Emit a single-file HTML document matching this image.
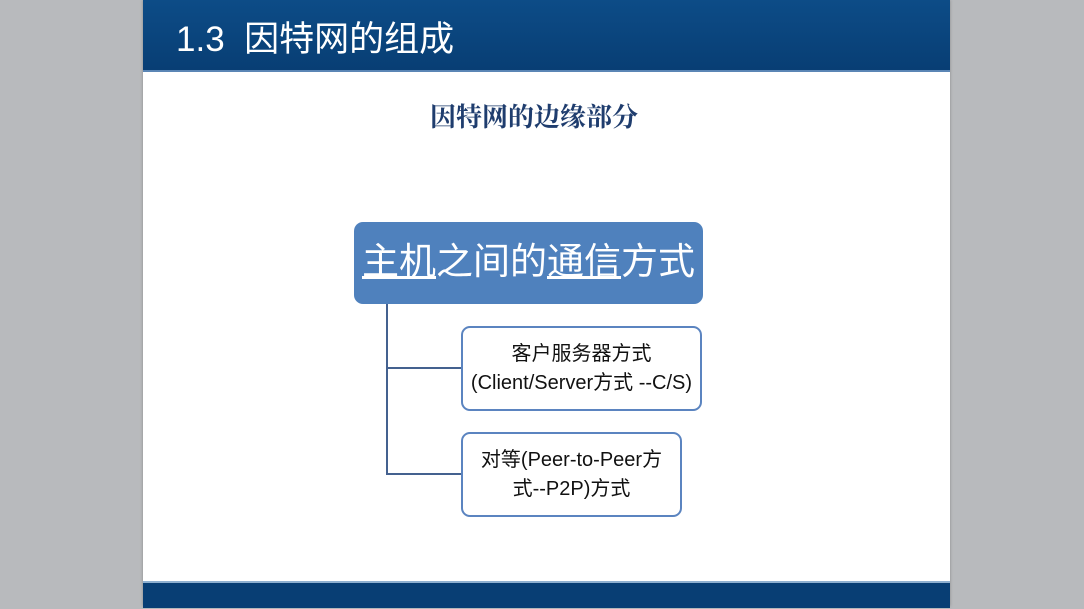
<!DOCTYPE html>
<html><head><meta charset="utf-8"><style>
body{margin:0;width:1084px;height:609px;background:#b8babd;position:relative;overflow:hidden;font-family:"Liberation Sans","Noto Sans CJK SC",sans-serif}
.slide{position:absolute;left:143px;top:0;width:807px;height:606px;background:#fff;box-shadow:0 0 3px #888}
.hdr{position:absolute;left:0;top:0;width:807px;height:70px;background:linear-gradient(#0d4c87,#083e74);border-bottom:2px solid #5b86b5}
.hdr span{position:absolute;left:33px;top:11px;color:#fff;font-size:35px;font-family:"Liberation Sans","Noto Sans CJK SC",sans-serif}
.ftr{position:absolute;left:0;top:581px;width:807px;height:25px;background:#083e74;border-top:2px solid #8fb0d0}
.sub{position:absolute;left:0;width:782px;top:97px;text-align:center;color:#1f3d6e;font-size:26px;font-family:"Liberation Serif","Noto Serif CJK SC",serif;font-weight:bold}
.main{position:absolute;left:211px;top:222px;width:349px;height:82px;background:#4f81bd;border-radius:9px;color:#fff;font-size:37px;line-height:80px;text-align:center;white-space:nowrap}
.box{position:absolute;background:#fff;border:2px solid #5b84c0;border-radius:9px;color:#111;font-size:20px;text-align:center;line-height:29px;box-sizing:border-box;white-space:nowrap}
.ln{position:absolute;background:#44618f}
</style></head><body>
<div class="slide">
<div class="hdr"><span>1.3&nbsp; 因特网的组成</span></div>
<div class="sub">因特网的边缘部分</div>
<div class="main"><u>主机</u>之间的<u>通信</u>方式</div>
<div class="ln" style="left:243px;top:304px;width:2px;height:171px"></div>
<div class="ln" style="left:243px;top:367px;width:75px;height:2px"></div>
<div class="ln" style="left:243px;top:473px;width:75px;height:2px"></div>
<div class="box" style="left:318px;top:326px;width:241px;height:85px;padding-top:12px">客户服务器方式<br>(Client/Server方式 --C/S)</div>
<div class="box" style="left:318px;top:432px;width:221px;height:85px;padding-top:12px">对等(Peer-to-Peer方<br>式--P2P)方式</div>
<div class="ftr"></div>
</div>
</body></html>
